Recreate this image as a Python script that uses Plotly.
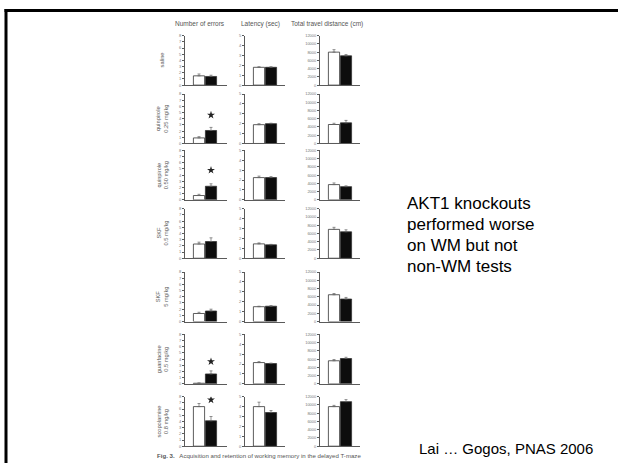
import plotly.graph_objects as go

W, H = 618, 465

# ---------------- data ----------------
treatments = ["saline", "quinpirole<br>0.25 mg/kg", "quinpirole<br>0.50 mg/kg",
              "SKF<br>0.5 mg/kg", "SKF<br>5 mg/kg", "guanfacine<br>0.5 mg/kg",
              "scopolamine<br>0.8 mg/kg"]
col_titles = ["Number of errors", "Latency (sec)", "Total travel distance (cm)"]
groups = ["WT", "AKT1 KO"]

err_wt = [1.5, 0.9, 0.7, 2.3, 1.3, 0.1, 6.4]
err_ko = [1.4, 2.1, 2.2, 2.7, 1.7, 1.6, 4.1]
err_wt_se = [0.3, 0.2, 0.2, 0.3, 0.2, 0.05, 0.5]
err_ko_se = [0.2, 0.5, 0.4, 0.6, 0.3, 0.5, 0.7]
err_star = [None, 4.6, 4.8, None, None, 3.6, 7.5]

lat_wt = [1.8, 1.9, 2.25, 1.45, 1.5, 2.15, 4.0]
lat_ko = [1.8, 2.0, 2.25, 1.35, 1.55, 2.05, 3.4]
lat_wt_se = [0.05, 0.1, 0.15, 0.1, 0.05, 0.1, 0.45]
lat_ko_se = [0.05, 0.05, 0.1, 0.05, 0.05, 0.05, 0.2]

dist_wt = [8000, 4600, 3700, 7000, 6500, 5600, 9600]
dist_ko = [7100, 5000, 3200, 6400, 5450, 6150, 10800]
dist_wt_se = [600, 300, 400, 500, 300, 300, 300]
dist_ko_se = [300, 600, 200, 500, 400, 300, 500]

y_max = [8, 5, 12000]
y_step = [1, 1, 2000]

slide_text = ["AKT1 knockouts", "performed worse", "on WM but not", "non-WM tests"]
citation = "Lai … Gogos, PNAS 2006"
caption = "<b>Fig. 3.</b>   Acquisition and retention of working memory in the delayed T-maze"

# ---------------- layout helpers ----------------
def px(x):
    return x / W

def py(y):
    return 1 - y / H

col_px = [(185, 227), (245, 285), (320, 360)]
row_px = [(33, 83), (92, 142), (149, 199), (208, 258), (272, 322), (335, 385), (398, 448)]
bar_x = [1.4, 2.6]
bar_w = 1.12

cols_data = [
    (err_wt, err_ko, err_wt_se, err_ko_se),
    (lat_wt, lat_ko, lat_wt_se, lat_ko_se),
    (dist_wt, dist_ko, dist_wt_se, dist_ko_se),
]

fig = go.Figure()
layout = dict(width=W, height=H, margin=dict(l=0, r=0, t=0, b=0),
              paper_bgcolor="white", plot_bgcolor="rgba(0,0,0,0)",
              showlegend=False, font=dict(family="Liberation Sans, Arial", color="#555"))

LINE = "#5a5a5a"
k = 0
for r in range(7):
    for c in range(3):
        k += 1
        xa = "x" if k == 1 else f"x{k}"
        ya = "y" if k == 1 else f"y{k}"
        wt, ko, wse, kse = cols_data[c]
        fig.add_trace(go.Bar(
            x=bar_x, y=[wt[r], ko[r]], width=bar_w,
            marker=dict(color=["white", "#0d0d0d"], line=dict(color="#333", width=0.8)),
            error_y=dict(type="data", array=[wse[r], kse[r]], arrayminus=[0, 0],
                         symmetric=False, color="#666", thickness=0.7, width=1.5),
            xaxis=xa, yaxis=ya, hoverinfo="skip"))
        if c == 0 and err_star[r] is not None:
            fig.add_trace(go.Scatter(
                x=[bar_x[1]], y=[err_star[r]], mode="markers",
                marker=dict(symbol="star", size=6, color="#222"),
                xaxis=xa, yaxis=ya, hoverinfo="skip"))
        x0, x1 = col_px[c]
        yt, yb = row_px[r]
        xk = "xaxis" if k == 1 else f"xaxis{k}"
        yk = "yaxis" if k == 1 else f"yaxis{k}"
        layout[xk] = dict(domain=[px(x0), px(x1)], range=[0, (x1 - x0) / 10.0],
                          anchor=ya, showline=True, linecolor=LINE, linewidth=0.8,
                          showticklabels=False, ticks="", showgrid=False,
                          zeroline=False, fixedrange=True)
        layout[yk] = dict(domain=[py(yb), py(yt)], range=[0, y_max[c]],
                          anchor=xa, showline=True, linecolor=LINE, linewidth=0.8,
                          ticks="outside", ticklen=2, tickwidth=0.6, tickcolor=LINE,
                          tickmode="linear", tick0=0, dtick=y_step[c], tickformat="d",
                          tickfont=dict(size=4, color="#777"),
                          showgrid=False, zeroline=False, fixedrange=True)

annotations = []
# column titles
for t, cx in zip(col_titles, [200, 260, 327]):
    annotations.append(dict(text=t, x=px(cx), y=py(21), xref="paper", yref="paper",
                            xanchor="center", yanchor="middle",
                            showarrow=False, font=dict(size=6.5, color="#555")))
# row labels
for r, t in enumerate(treatments):
    yt, yb = row_px[r]
    annotations.append(dict(text=t, x=px(162), y=py((yt + yb) / 2), xref="paper",
                            yref="paper", xanchor="center", yanchor="middle",
                            showarrow=False, textangle=-90,
                            font=dict(size=5.7, color="#555")))
# caption
annotations.append(dict(text=caption, x=px(155), y=py(457), xref="paper", yref="paper",
                        xanchor="left", yanchor="middle", showarrow=False,
                        font=dict(size=6.1, color="#555")))
# slide text
for i, t in enumerate(slide_text):
    annotations.append(dict(text=t, x=px(405), y=py(203 + 21 * i), xref="paper",
                            yref="paper", xanchor="left", yanchor="middle", showarrow=False,
                            font=dict(size=17, color="black", family="Liberation Sans, Arial")))
annotations.append(dict(text=citation, x=px(417), y=py(450), xref="paper", yref="paper",
                        xanchor="left", yanchor="middle", showarrow=False,
                        font=dict(size=15, color="black", family="Liberation Sans, Arial")))
layout["annotations"] = annotations

layout["shapes"] = [
    dict(type="line", xref="paper", yref="paper", x0=px(4.5), x1=1, y0=py(7.5), y1=py(7.5),
         line=dict(color="black", width=3)),
    dict(type="line", xref="paper", yref="paper", x0=px(6), x1=px(6), y0=py(6), y1=0,
         line=dict(color="black", width=3)),
]

fig.update_layout(**layout)
fig.write_html("out.html", config={"displayModeBar": False},
               post_script="document.body.style.margin='0';document.body.style.overflow='hidden';")
